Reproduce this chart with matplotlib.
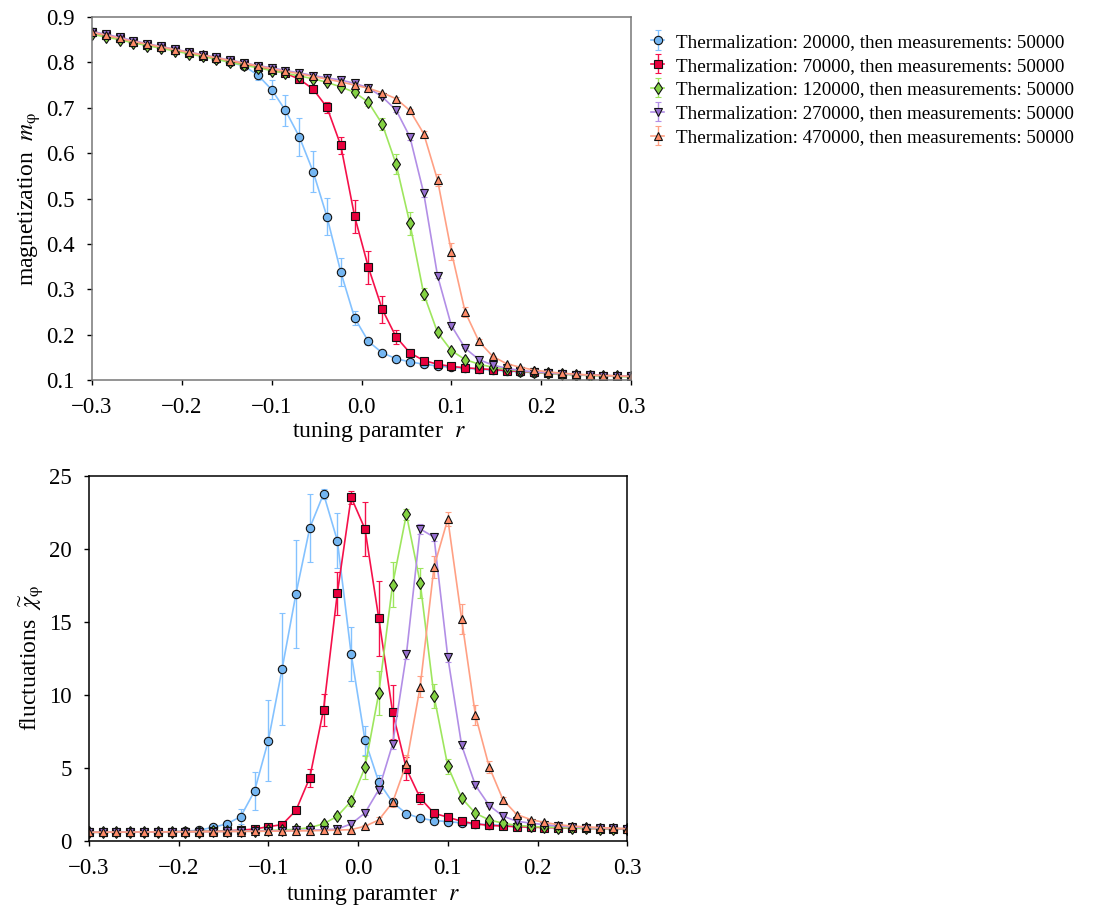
import numpy as np
import matplotlib
matplotlib.use("Agg")
from matplotlib import pyplot as plt

plt.rcParams['font.family'] = ['Liberation Serif', 'DejaVu Serif']
plt.rcParams['mathtext.fontset'] = 'stix'

# tuning parameter grid (40 points from -0.3 to 0.3)
r = np.linspace(-0.3, 0.3, 40)

labels = [
    "Thermalization: 20000, then measurements: 50000",
    "Thermalization: 70000, then measurements: 50000",
    "Thermalization: 120000, then measurements: 50000",
    "Thermalization: 270000, then measurements: 50000",
    "Thermalization: 470000, then measurements: 50000",
]

# magnetization m_phi
m_20k = [0.866, 0.860, 0.853, 0.846, 0.839, 0.833, 0.827, 0.821, 0.815, 0.808,
         0.800, 0.792, 0.772, 0.740, 0.694, 0.636, 0.559, 0.460, 0.338, 0.237,
         0.185, 0.160, 0.147, 0.140, 0.135, 0.131, 0.128, 0.126, 0.124, 0.122,
         0.120, 0.118, 0.116, 0.115, 0.113, 0.112, 0.111, 0.110, 0.109, 0.108]
m_70k = [0.866, 0.860, 0.853, 0.846, 0.839, 0.833, 0.827, 0.821, 0.815, 0.809,
         0.802, 0.796, 0.790, 0.783, 0.776, 0.763, 0.741, 0.701, 0.617, 0.461,
         0.348, 0.256, 0.195, 0.160, 0.143, 0.135, 0.130, 0.127, 0.125, 0.123,
         0.121, 0.119, 0.117, 0.115, 0.114, 0.112, 0.111, 0.110, 0.109, 0.108]
m_120k = [0.862, 0.856, 0.850, 0.843, 0.837, 0.831, 0.825, 0.819, 0.813, 0.807,
          0.800, 0.794, 0.788, 0.782, 0.776, 0.770, 0.764, 0.756, 0.746, 0.734,
          0.712, 0.664, 0.576, 0.445, 0.290, 0.205, 0.165, 0.145, 0.135, 0.128,
          0.124, 0.120, 0.117, 0.115, 0.113, 0.111, 0.110, 0.109, 0.108, 0.107]
m_270k = [0.868, 0.862, 0.855, 0.848, 0.841, 0.835, 0.829, 0.823, 0.817, 0.811,
          0.805, 0.799, 0.793, 0.788, 0.782, 0.777, 0.771, 0.766, 0.761, 0.754,
          0.744, 0.724, 0.695, 0.636, 0.512, 0.330, 0.220, 0.170, 0.145, 0.133,
          0.126, 0.121, 0.118, 0.116, 0.114, 0.112, 0.111, 0.110, 0.109, 0.108]
m_470k = [0.866, 0.860, 0.853, 0.846, 0.840, 0.834, 0.828, 0.822, 0.816, 0.810,
          0.804, 0.798, 0.792, 0.786, 0.780, 0.775, 0.769, 0.763, 0.757, 0.750,
          0.743, 0.733, 0.720, 0.694, 0.643, 0.541, 0.383, 0.250, 0.185, 0.152,
          0.136, 0.128, 0.122, 0.118, 0.115, 0.113, 0.111, 0.110, 0.109, 0.108]

m_err_20k = [0, 0, 0, 0, 0, 0, 0, 0, 0, 0,
             0.002, 0.005, 0.010, 0.021, 0.034, 0.042, 0.045, 0.041, 0.031, 0.015,
             0.008, 0.004, 0.002, 0, 0, 0, 0, 0, 0, 0,
             0, 0, 0, 0, 0, 0, 0, 0, 0, 0]
m_err_70k = [0, 0, 0, 0, 0, 0, 0, 0, 0, 0,
             0, 0, 0, 0, 0.003, 0.005, 0.008, 0.012, 0.018, 0.036,
             0.037, 0.030, 0.015, 0.008, 0.004, 0.002, 0, 0, 0, 0,
             0, 0, 0, 0, 0, 0, 0, 0, 0, 0]
m_err_120k = [0, 0, 0, 0, 0, 0, 0, 0, 0, 0,
              0, 0, 0, 0, 0, 0, 0, 0, 0.003, 0.005,
              0.008, 0.013, 0.023, 0.025, 0.013, 0.006, 0.003, 0, 0, 0,
              0, 0, 0, 0, 0, 0, 0, 0, 0, 0]
m_err_270k = [0, 0, 0, 0, 0, 0, 0, 0, 0, 0,
              0, 0, 0, 0, 0, 0, 0, 0, 0, 0,
              0.002, 0.003, 0.005, 0.008, 0.008, 0.006, 0.003, 0, 0, 0,
              0, 0, 0, 0, 0, 0, 0, 0, 0, 0]
m_err_470k = [0, 0, 0, 0, 0, 0, 0, 0, 0, 0,
              0, 0, 0, 0, 0, 0, 0, 0, 0, 0,
              0, 0, 0.003, 0.004, 0.006, 0.013, 0.019, 0.010, 0.005, 0.002,
              0, 0, 0, 0, 0, 0, 0, 0, 0, 0]

# fluctuations chi_phi
c_20k = [0.58, 0.58, 0.59, 0.59, 0.60, 0.61, 0.62, 0.65, 0.72, 0.92,
         1.15, 1.65, 3.40, 6.86, 11.78, 16.90, 21.42, 23.76, 20.55, 12.79,
         6.89, 4.02, 2.62, 1.86, 1.54, 1.38, 1.31, 1.22, 1.15, 1.10,
         1.05, 1.00, 0.97, 0.93, 0.90, 0.88, 0.86, 0.84, 0.82, 0.80]
c_70k = [0.58, 0.58, 0.59, 0.59, 0.60, 0.60, 0.61, 0.62, 0.63, 0.65,
         0.68, 0.72, 0.80, 0.96, 1.10, 2.07, 4.31, 8.98, 16.96, 23.53,
         21.35, 15.24, 8.82, 4.93, 2.92, 1.88, 1.61, 1.33, 1.15, 1.05,
         1.00, 0.96, 0.93, 0.90, 0.88, 0.86, 0.84, 0.83, 0.82, 0.80]
c_120k = [0.58, 0.58, 0.59, 0.59, 0.60, 0.60, 0.61, 0.62, 0.63, 0.64,
          0.65, 0.66, 0.68, 0.70, 0.73, 0.78, 0.90, 1.15, 1.68, 2.71,
          5.02, 10.10, 17.54, 22.35, 17.67, 9.92, 5.10, 2.92, 1.88, 1.42,
          1.20, 1.05, 0.98, 0.93, 0.90, 0.87, 0.85, 0.83, 0.82, 0.80]
c_270k = [0.58, 0.58, 0.59, 0.59, 0.60, 0.60, 0.61, 0.62, 0.62, 0.63,
          0.64, 0.65, 0.66, 0.67, 0.68, 0.70, 0.72, 0.75, 0.80, 1.15,
          1.90, 3.49, 6.61, 12.76, 21.35, 20.80, 12.57, 6.54, 3.79, 2.41,
          1.68, 1.33, 1.20, 1.10, 1.00, 0.95, 0.90, 0.87, 0.84, 0.82]
c_470k = [0.58, 0.58, 0.59, 0.59, 0.60, 0.60, 0.61, 0.61, 0.62, 0.62,
          0.63, 0.63, 0.64, 0.65, 0.66, 0.67, 0.68, 0.70, 0.72, 0.76,
          0.99, 1.42, 2.62, 5.28, 10.56, 18.75, 22.04, 15.19, 8.59, 5.05,
          2.80, 1.79, 1.45, 1.25, 1.10, 1.00, 0.95, 0.90, 0.86, 0.82]

c_err_20k = [0, 0, 0, 0, 0, 0, 0, 0, 0.05, 0.1,
             0.2, 0.5, 1.3, 2.77, 3.85, 3.73, 2.32, 0.34, 1.88, 1.85,
             1.0, 0.45, 0.2, 0.1, 0, 0, 0, 0, 0, 0,
             0, 0, 0, 0, 0, 0, 0, 0, 0, 0]
c_err_70k = [0, 0, 0, 0, 0, 0, 0, 0, 0, 0,
             0, 0, 0, 0.05, 0.1, 0.2, 0.6, 1.1, 1.47, 0.45,
             1.88, 2.57, 1.87, 0.8, 0.4, 0.2, 0.1, 0, 0, 0,
             0, 0, 0, 0, 0, 0, 0, 0, 0, 0]
c_err_120k = [0, 0, 0, 0, 0, 0, 0, 0, 0, 0,
              0, 0, 0, 0, 0, 0, 0.05, 0.1, 0.2, 0.3,
              0.8, 1.5, 1.56, 0.35, 1.03, 0.83, 0.5, 0.2, 0.1, 0,
              0, 0, 0, 0, 0, 0, 0, 0, 0, 0]
c_err_270k = [0, 0, 0, 0, 0, 0, 0, 0, 0, 0,
              0, 0, 0, 0, 0, 0, 0, 0, 0, 0.1,
              0.15, 0.2, 0.3, 0.3, 0.35, 0.3, 0.3, 0.2, 0.1, 0,
              0, 0, 0, 0, 0, 0, 0, 0, 0, 0]
c_err_470k = [0, 0, 0, 0, 0, 0, 0, 0, 0, 0,
              0, 0, 0, 0, 0, 0, 0, 0, 0, 0,
              0.1, 0.2, 0.3, 0.57, 0.72, 0.78, 0.5, 1.0, 0.69, 0.43,
              0.2, 0.1, 0, 0, 0, 0, 0, 0, 0, 0]

line_colors = ['#84c2ff', '#f5104a', '#9ee65e', '#b28ee6', '#ffa084']
face_colors = ['#74b6f2', '#e8003c', '#84d244', '#9870d2', '#ff8c68']
markers = ['o', 's', 'd', 'v', '^']

mags = [m_20k, m_70k, m_120k, m_270k, m_470k]
mag_errs = [m_err_20k, m_err_70k, m_err_120k, m_err_270k, m_err_470k]
chis = [c_20k, c_70k, c_120k, c_270k, c_470k]
chi_errs = [c_err_20k, c_err_70k, c_err_120k, c_err_270k, c_err_470k]

fig = plt.figure(figsize=(10.94, 9.14), dpi=100)
ax1 = fig.add_axes([0.0841, 0.5842, 0.4927, 0.3972])
ax2 = fig.add_axes([0.0812, 0.0802, 0.4922, 0.3993])


def draw(ax, ys, errs):
    handles = []
    for i in range(5):
        h = ax.errorbar(r, ys[i], yerr=errs[i], color=line_colors[i], lw=1.2,
                        marker=markers[i], markersize=6 if markers[i] != 'd' else 6.5,
                        markerfacecolor=face_colors[i], markeredgecolor='#111111',
                        markeredgewidth=0.8, ecolor=line_colors[i], elinewidth=1.0,
                        capsize=2.2, capthick=1.0, label=labels[i])
        handles.append(h)
    return handles


handles = draw(ax1, mags, mag_errs)
draw(ax2, chis, chi_errs)

ax1.set_xlim(-0.3, 0.3)
ax1.set_ylim(0.1, 0.9)
ax2.set_xlim(-0.3, 0.3)
ax2.set_ylim(0, 25)

xtick_labels = ['\u22120.3', '\u22120.2', '\u22120.1', '0.0', '0.1', '0.2', '0.3']
for ax, spc in [(ax1, '#777777'), (ax2, 'black')]:
    for s in ax.spines.values():
        s.set_color(spc)
        s.set_linewidth(1.1)
    ax.tick_params(direction='out', length=3.5, width=1, labelsize=16.5,
                   top=False, right=False, colors='black', pad=9)
    ax.set_xticks([-0.3, -0.2, -0.1, 0.0, 0.1, 0.2, 0.3])
    ax.set_xticklabels(xtick_labels)

ax1.set_yticks([0.1, 0.2, 0.3, 0.4, 0.5, 0.6, 0.7, 0.8, 0.9])
ax2.set_yticks([0, 5, 10, 15, 20, 25])

ax1.set_xlabel(r'tuning paramter  $r$', fontsize=17, labelpad=1)
ax1.set_ylabel(r'magnetization  $m_{\mathrm{\varphi}}$', fontsize=17, labelpad=2)
ax2.set_xlabel(r'tuning paramter  $r$', fontsize=17, labelpad=3)
ax2.set_ylabel(r'fluctuations  $\widetilde{\chi}_{\mathrm{\varphi}}$', fontsize=17, labelpad=2)
ax1.xaxis.label.set_x(0.533)
ax2.xaxis.label.set_x(0.527)

fig.legend(handles=handles, labels=labels, loc='upper left',
           bbox_to_anchor=(0.588, 0.972), frameon=False, fontsize=13.8,
           handlelength=0.7, handletextpad=0.6, labelspacing=0.34,
           borderaxespad=0.0)

fig.savefig('out.png', dpi=100)
